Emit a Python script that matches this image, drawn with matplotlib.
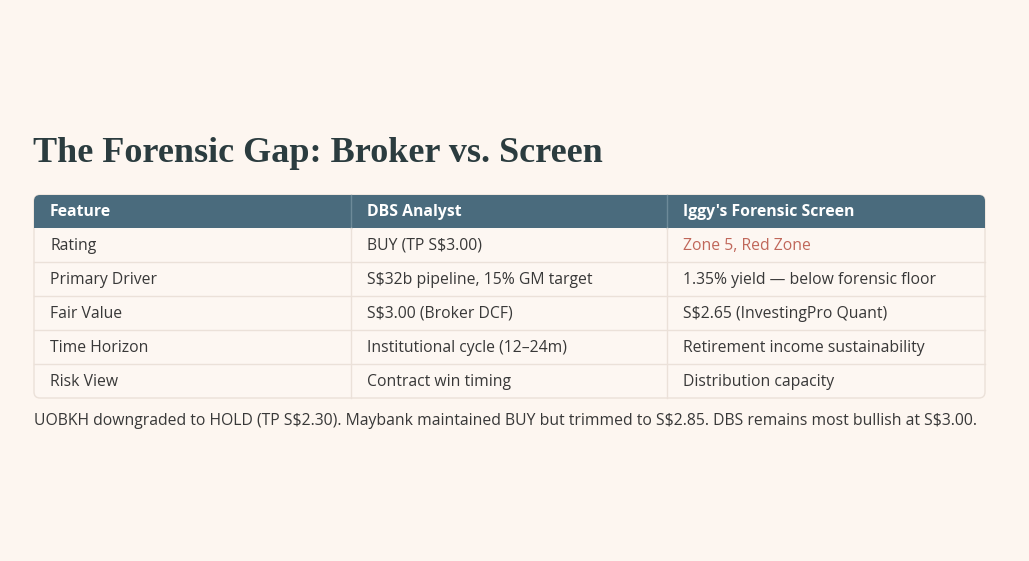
import matplotlib.pyplot as plt
from matplotlib.patches import FancyBboxPatch, Rectangle

# Table content
columns = ["Feature", "DBS Analyst", "Iggy's Forensic Screen"]
features = ["Rating", "Primary Driver", "Fair Value", "Time Horizon", "Risk View"]
dbs_view = ["BUY (TP S$3.00)", "S$32b pipeline, 15% GM target", "S$3.00 (Broker DCF)",
            "Institutional cycle (12\u201324m)", "Contract win timing"]
iggy_view = ["Zone 5, Red Zone", "1.35% yield \u2014 below forensic floor",
             "S$2.65 (InvestingPro Quant)", "Retirement income sustainability",
             "Distribution capacity"]
title = "The Forensic Gap: Broker vs. Screen"
note = ("UOBKH downgraded to HOLD (TP S$2.30). Maybank maintained BUY but trimmed to S$2.85. "
        "DBS remains most bullish at S$3.00.")

bg = "#fdf6f0"
header_col = "#4a6b7d"
line_col = "#ebe1d9"
text_col = "#383838"
red_col = "#c0675a"
body_font = ["Open Sans", "DejaVu Sans"]

W, H = 1029, 561
fig = plt.figure(figsize=(W / 100, H / 100), dpi=100, facecolor=bg)
ax = fig.add_axes([0, 0, 1, 1])
ax.set_xlim(0, W)
ax.set_ylim(H, 0)
ax.axis("off")

left, right = 34, 985
col_x = [34, 351, 667]
top, head_h, row_h = 195, 33, 34
n = len(features)
bottom = top + head_h + n * row_h

ax.text(33, 162, title, fontsize=26, fontweight="bold", color="#2b3c3f",
        family=["Liberation Serif", "DejaVu Serif"], va="baseline", ha="left")

table = FancyBboxPatch((left, top), right - left, bottom - top,
                       boxstyle="round,pad=0,rounding_size=6",
                       facecolor="#fdf7f2", edgecolor=line_col, lw=1.0, zorder=1)
ax.add_patch(table)

header = Rectangle((left, top), right - left, head_h, facecolor=header_col,
                   edgecolor="none", zorder=2)
ax.add_patch(header)
header.set_clip_path(table)

# row separators
for i in range(1, n):
    y = top + head_h + i * row_h
    ax.plot([left, right], [y, y], color=line_col, lw=1.0, zorder=3)

# column separators
for x in col_x[1:]:
    ax.plot([x, x], [top, top + head_h], color="#6d8a99", lw=1.0, zorder=3)
    ax.plot([x, x], [top + head_h, bottom], color=line_col, lw=1.0, zorder=3)

for j, c in enumerate(columns):
    ax.text(col_x[j] + 16, top + head_h / 2 + 0.5, c, color="white", fontsize=11.3,
            fontweight="bold", family=body_font, va="center", ha="left", zorder=4)

for i in range(n):
    yc = top + head_h + (i + 0.5) * row_h + 0.5
    vals = [features[i], dbs_view[i], iggy_view[i]]
    for j, v in enumerate(vals):
        color = red_col if (i == 0 and j == 2) else text_col
        ax.text(col_x[j] + 16, yc, v, color=color, fontsize=11.3, family=body_font,
                va="center", ha="left", zorder=4)

ax.text(34, 421, note, color=text_col, fontsize=11.3, family=body_font,
        va="center", ha="left")

fig.savefig("out.png", dpi=100, facecolor=bg)
